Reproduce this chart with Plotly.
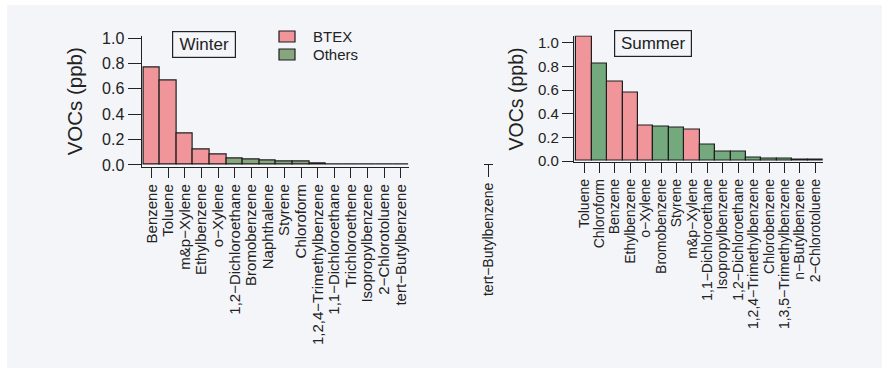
import plotly.graph_objects as go

W, H = 886, 373

# ---------------- data ----------------
winter_labels = ["Benzene", "Toluene", "m&p\u2212Xylene", "Ethylbenzene", "o\u2212Xylene",
                 "1,2\u2212Dichloroethane", "Bromobenzene", "Naphthalene", "Styrene", "Chloroform",
                 "1,2,4\u2212Trimethylbenzene", "1,1\u2212Dichloroethane", "Trichloroethene",
                 "Isopropylbenzene", "2\u2212Chlorotoluene", "tert\u2212Butylbenzene"]
winter_values = [0.77, 0.665, 0.246, 0.122, 0.083,
                 0.049, 0.041, 0.033, 0.028, 0.025,
                 0.008, 0.007, 0.006,
                 0.0015, 0.001, 0.001]

summer_labels = ["Toluene", "Chloroform", "Benzene", "Ethylbenzene", "o\u2212Xylene",
                 "Bromobenzene", "Styrene", "m&p\u2212Xylene", "1,1\u2212Dichloroethane",
                 "Isopropylbenzene", "1,2\u2212Dichloroethane", "1,2,4\u2212Trimethylbenzene",
                 "Chlorobenzene", "1,3,5\u2212Trimethylbenzene", "n\u2212Butylbenzene",
                 "2\u2212Chlorotoluene"]
summer_values = [1.05, 0.825, 0.67, 0.58, 0.296,
                 0.29, 0.285, 0.262, 0.138,
                 0.079, 0.079, 0.031,
                 0.022, 0.02, 0.015, 0.01]

summer_extra_labels = ["tert\u2212Butylbenzene"]
summer_extra_values = [0.0]

btex = ["Benzene", "Toluene", "Ethylbenzene", "o\u2212Xylene", "m&p\u2212Xylene"]
legend_names = ["BTEX", "Others"]

y_ticks = [0.0, 0.2, 0.4, 0.6, 0.8, 1.0]
y_ticktext = ["0.0", "0.2", "0.4", "0.6", "0.8", "1.0"]

# ---------------- style ----------------
PINK = "#f0959a"
GREEN_W = "#88a67e"
GREEN_S = "#73a97d"
EDGE = "#1e1e1e"
FONT = "Liberation Sans, Arial, sans-serif"


def px_x(p):
    return p / W


def px_y(p):
    return (H - p) / H


def split(labels, values):
    b = [(l, v) for l, v in zip(labels, values) if l in btex]
    o = [(l, v) for l, v in zip(labels, values) if l not in btex]
    return b, o


fig = go.Figure()

wb, wo = split(winter_labels, winter_values)
sb, so = split(summer_labels, summer_values)

bar_line = dict(color=EDGE, width=1.2)
fig.add_trace(go.Bar(x=[l for l, v in wb], y=[v for l, v in wb], name=legend_names[0],
                     marker=dict(color=PINK, line=bar_line), width=1,
                     xaxis="x", yaxis="y", showlegend=False))
fig.add_trace(go.Bar(x=[l for l, v in wo], y=[v for l, v in wo], name=legend_names[1],
                     marker=dict(color=GREEN_W, line=bar_line), width=1,
                     xaxis="x", yaxis="y", showlegend=False))
fig.add_trace(go.Bar(x=[l for l, v in sb], y=[v for l, v in sb], name=legend_names[0],
                     marker=dict(color=PINK, line=bar_line), width=1,
                     xaxis="x2", yaxis="y2", showlegend=False))
fig.add_trace(go.Bar(x=[l for l, v in so], y=[v for l, v in so], name=legend_names[1],
                     marker=dict(color=GREEN_S, line=bar_line), width=1,
                     xaxis="x2", yaxis="y2", showlegend=False))
fig.add_trace(go.Bar(x=summer_extra_labels, y=summer_extra_values, name=legend_names[1],
                     marker=dict(color=GREEN_S, line=dict(color=EDGE, width=0)),
                     width=1, xaxis="x3", yaxis="y2", showlegend=False))

axis_common = dict(showline=True, linecolor="#222", linewidth=1.4, ticks="outside",
                   tickcolor="#222", tickwidth=1.2, showgrid=False, zeroline=False,
                   fixedrange=True, automargin=False)

# manual legend (swatches + real text)
legend_shapes = []
legend_annots = []
for i, (name, col) in enumerate(zip(legend_names, [PINK, GREEN_W])):
    top = 31 + 18 * i
    legend_shapes.append(dict(type="rect", xref="paper", yref="paper",
                              x0=px_x(279), x1=px_x(295), y0=px_y(top + 11), y1=px_y(top),
                              fillcolor=col, line=dict(color=EDGE, width=1.2)))
    legend_annots.append(dict(text=name, xref="paper", yref="paper", x=px_x(311),
                              y=px_y(top + 5.5), xanchor="left", yanchor="middle",
                              showarrow=False, font=dict(size=15, color="#222")))

fig.update_layout(
    width=W, height=H,
    margin=dict(l=0, r=0, t=0, b=0, autoexpand=False),
    paper_bgcolor="white",
    plot_bgcolor="rgba(0,0,0,0)",
    barmode="overlay", bargap=0,
    font=dict(family=FONT, color="#222"),
    showlegend=False,
    xaxis=dict(**axis_common, domain=[px_x(141.7), px_x(409)], type="category",
               categoryorder="array", categoryarray=winter_labels,
               tickmode="array", tickvals=winter_labels, ticktext=winter_labels,
               range=[-0.6, 15.5], tickangle=-90, ticklen=10,
               tickfont=dict(size=15), anchor="y"),
    yaxis=dict(**axis_common, domain=[px_y(167), px_y(35.5)], range=[-0.016, 1.02],
               tickmode="array", tickvals=y_ticks, ticktext=y_ticktext, ticklen=13,
               tickfont=dict(size=16), anchor="x",
               title=dict(text="VOCs (ppb)", font=dict(size=20.5), standoff=13)),
    xaxis2=dict(**axis_common, domain=[px_x(574), px_x(822.7)], type="category",
                categoryorder="array", categoryarray=summer_labels,
                tickmode="array", tickvals=summer_labels, ticktext=summer_labels,
                range=[-0.65, 15.48], tickangle=-90, ticklen=10,
                tickfont=dict(size=14), anchor="y2"),
    yaxis2=dict(**axis_common, domain=[px_y(162.2), px_y(35.6)], range=[-0.01, 1.06],
                tickmode="array", tickvals=y_ticks, ticktext=y_ticktext, ticklen=11,
                tickfont=dict(size=15), anchor="x2",
                title=dict(text="VOCs (ppb)", font=dict(size=19.5), standoff=9)),
    xaxis3=dict(**axis_common, domain=[px_x(484), px_x(493)], type="category",
                categoryarray=summer_extra_labels,
                tickmode="array", tickvals=summer_extra_labels, ticktext=summer_extra_labels,
                range=[-0.5, 0.5], tickangle=-90, ticklen=12, tickfont=dict(size=14),
                anchor="free", position=px_y(164)),
    shapes=[dict(type="rect", xref="paper", yref="paper", layer="below",
                 x0=px_x(7), x1=px_x(882), y0=px_y(368), y1=px_y(5),
                 fillcolor="#f4f5f9", line=dict(width=0))] + legend_shapes,
    annotations=[
        dict(text="Winter", xref="paper", yref="paper", x=px_x(204), y=px_y(44.5),
             xanchor="center", yanchor="middle", showarrow=False, width=56,
             font=dict(size=17, color="#222"), bordercolor="#222", borderwidth=1.2,
             borderpad=3),
        dict(text="Summer", xref="paper", yref="paper", x=px_x(653), y=px_y(43.5),
             xanchor="center", yanchor="middle", showarrow=False, width=70,
             font=dict(size=17, color="#222"), bordercolor="#222", borderwidth=1.2,
             borderpad=3),
    ] + legend_annots,
)

fig.write_html("out.html")
